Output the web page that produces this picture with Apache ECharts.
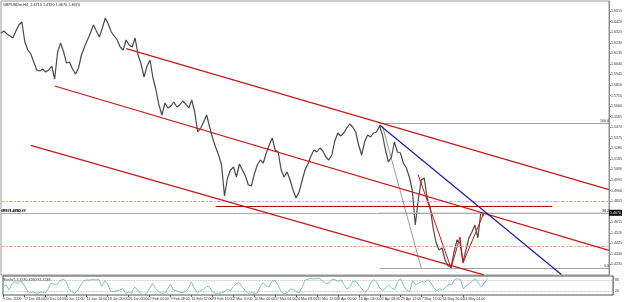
<!DOCTYPE html>
<html>
<head>
<meta charset="utf-8">
<script src="https://cdn.jsdelivr.net/npm/echarts@6.0.0/dist/echarts.min.js"></script>
<style>
html, body { margin: 0; padding: 0; background: #fff; }
#chart { width: 625px; height: 302px; }
</style>
</head>
<body>
<div id="chart"></div>
<script>
// GBPUSD H4 with channels, pivots and stochastic sub-window
var timeLabels = ['9 Dec 2009', '17 Dec 08:00', '24 Dec 04:00', '4 Jan 12:00', '11 Jan 16:00', '18 Jan 20:00',
  '26 Jan 00:00', '2 Feb 04:00', '9 Feb 08:00', '16 Feb 12:00', '23 Feb 16:00', '2 Mar 20:00', '10 Mar 00:00',
  '17 Mar 04:00', '24 Mar 08:00', '31 Mar 12:00', '8 Apr 00:00', '15 Apr 04:00', '22 Apr 08:00', '29 Apr 12:00',
  '7 May 12:00', '14 May 20:00', '24 May 04:00', '31 May 12:00'];
var labelEvery = 7;
var slotCount = 205;

var priceClose = [
  1.6318, 1.6336, 1.6309, 1.6291, 1.6273, 1.6336, 1.6390, 1.6417, 1.6237, 1.6165,
  1.6129, 1.6057, 1.5985, 1.5976, 1.5994, 1.5967, 1.5985, 1.6021, 1.5904, 1.6147,
  1.6228, 1.6147, 1.6048, 1.6057, 1.5994, 1.5949, 1.6003, 1.6120, 1.6192, 1.6255,
  1.6318, 1.6390, 1.6336, 1.6282, 1.6363, 1.6453, 1.6399, 1.6327, 1.6291, 1.6255,
  1.6192, 1.6165, 1.6255, 1.6210, 1.6192, 1.6273, 1.6120, 1.6039, 1.5922, 1.6021,
  1.6075, 1.5913, 1.5805, 1.5670, 1.5580, 1.5688, 1.5643, 1.5661, 1.5697, 1.5652,
  1.5670, 1.5706, 1.5679, 1.5643, 1.5715, 1.5607, 1.5427, 1.5463, 1.5517, 1.5580,
  1.5472, 1.5373, 1.5292, 1.5220, 1.5130, 1.4851, 1.5013, 1.5085, 1.5112, 1.5022,
  1.5139, 1.5085, 1.5031, 1.4950, 1.4941, 1.5049, 1.5130, 1.5175, 1.5148, 1.5238,
  1.5310, 1.5373, 1.5265, 1.5247, 1.5085, 1.5022, 1.5067, 1.4995, 1.4905, 1.4833,
  1.4887, 1.4986, 1.5085, 1.5139, 1.5211, 1.5265, 1.5247, 1.5283, 1.5256, 1.5202,
  1.5175, 1.5220, 1.5346, 1.5418, 1.5391, 1.5418, 1.5463, 1.5499, 1.5472, 1.5427,
  1.5310, 1.5220, 1.5337, 1.5400, 1.5382, 1.5418, 1.5427, 1.5481, 1.5400, 1.5265,
  1.5157, 1.5202, 1.5337, 1.5247, 1.5238, 1.5148, 1.5103, 1.5022, 1.4905, 1.4590,
  1.4815, 1.4995, 1.5013, 1.4833, 1.4743, 1.4563, 1.4428, 1.4365, 1.4383, 1.4275,
  1.4221, 1.4212, 1.4347, 1.4455, 1.4428, 1.4257, 1.4365, 1.4473, 1.4527, 1.4590,
  1.4473, 1.4707, 1.4670
];

var stochMain = [
  44, 53, 26, 58, 70, 61, 75, 53, 26, 9,
  18, 9, 12, 18, 9, 30, 61, 58, 53, 75,
  83, 75, 35, 18, 9, 26, 53, 75, 79, 79,
  83, 79, 83, 44, 75, 58, 18, 18, 23, 26,
  35, 9, 16, 9, 44, 26, 9, 0, 9, 35,
  61, 35, 18, 9, 9, 30, 58, 26, 23, 16,
  12, 18, 35, 70, 35, 12, 23, 30, 44, 44,
  18, 9, 5, 12, 16, 30, 23, 44, 61, 65,
  44, 23, 9, 12, 9, 9, 44, 65, 47, 44,
  75, 75, 53, 18, 5, 12, 30, 30, 18, 12,
  40, 79, 83, 88, 84, 88, 86,
  72, 60, 63, 81, 81, 72, 81, 54, 32, 42,
  72, 72, 52, 32, 14, 28, 63, 81, 67, 37,
  23, 37, 52, 37, 28, 72, 86, 49, 25, 19,
  75, 54, 63, 70, 67, 79, 67, 40, 23, 32,
  25, 42, 54, 54, 81, 86, 81, 32, 49, 60,
  74, 86, 63, 42, 63, 86
];

// trend lines: [slot, price] start and end
var channelUpper = [[42, 1.6177], [204, 1.4909]];
var channelMid = [[18, 1.5841], [204, 1.4362]];
var channelLow = [[10, 1.5307], [162, 1.4141]];
var blueLine = [[127, 1.5490], [188, 1.4145]];
var fiboDiag = [[128, 1.5481], [141, 1.4203]];
var redLevel = [[72, 1.4761], [185, 1.4761]];

var zigzagSlots = [140, 151, 154, 155, 162];
var zigzagPrices = [1.5040, 1.4203, 1.4482, 1.4248, 1.4698];

var fiboStart = 127;
var fiboPrices = [1.5508, 1.4702, 1.4203];
var fiboNames = ['100.0', '38.2', '0.0'];

var tanLevels = [1.4829, 1.4804, 1.4781];
var greenLevels = [1.4730, 1.4703, 1.4680];
var greenTags = ['#R1#1.4730 ##', '#PP#1.4703 ##', '#S1#1.4680 ##'];
var lowLevels = [1.4428, 1.4404, 1.4374];
var bidPrice = 1.4670;
var stochLevels = [80, 20];

(function () {
  var font = 'Liberation Sans';
  var ink = '#333';
  var frame = '#9a9a9a';
  var dashDot = [4, 1.5, 1, 1.5];

  var slots = [];
  for (var i = 0; i < slotCount; i++) slots.push(i);

  var zigzag = slots.map(function () { return null; });
  zigzagSlots.forEach(function (s, k) { zigzag[s] = zigzagPrices[k]; });

  function seg(pts, color, width, type) {
    return [
      { coord: pts[0], lineStyle: { color: color, width: width, type: type || 'solid' } },
      { coord: pts[1] }
    ];
  }
  function level(v, color, tag) {
    var it = { yAxis: v, lineStyle: { color: color, width: 0.8, type: dashDot } };
    if (tag) {
      it.label = { show: true, position: 'insideStartTop', distance: 0, formatter: tag,
        fontSize: 3.6, color: '#222', fontFamily: font };
    }
    return it;
  }

  var lines = [];
  tanLevels.forEach(function (v) { lines.push(level(v, '#e2a988')); });
  greenLevels.forEach(function (v, k) { lines.push(level(v, '#8fb88f', greenTags[k])); });
  lowLevels.forEach(function (v) { lines.push(level(v, '#e2a988')); });
  lines.push({
    yAxis: bidPrice,
    lineStyle: { color: '#a8a8a8', width: 0.8, type: 'solid' },
    label: { show: true, position: 'end', distance: 0, formatter: bidPrice.toFixed(4),
      backgroundColor: '#000', color: '#fff', fontSize: 3.6, padding: [1, 1], fontFamily: font }
  });
  fiboPrices.forEach(function (p, k) {
    var s = seg([[fiboStart, p], [slotCount - 1, p]], k === 1 ? '#b0b0b0' : '#8a8a8a', 0.8, k === 1 ? 'dotted' : 'solid');
    s[0].label = { show: true, position: 'insideEndTop', distance: 0, formatter: fiboNames[k],
      fontSize: 3.6, color: '#222', fontFamily: font };
    lines.push(s);
  });
  lines.push(seg(fiboDiag, '#555', 0.6));
  lines.push(seg(redLevel, '#a01010', 1));
  lines.push(seg(channelUpper, '#c81818', 1.2));
  lines.push(seg(channelMid, '#c81818', 1.2));
  lines.push(seg(channelLow, '#c81818', 1.2));
  lines.push(seg(blueLine, '#1c1c96', 1.2));

  var chart = echarts.init(document.getElementById('chart'), null, { renderer: 'canvas' });
  chart.setOption({
    animation: false,
    backgroundColor: '#fff',
    textStyle: { fontFamily: font },
    graphic: [
      { type: 'text', left: 3, top: 3, style: { text: 'GBPUSDm,H4  1.4710 1.4720 1.4670 1.4670',
        fontSize: 3.8, fill: '#222', fontFamily: font } },
      { type: 'text', left: 3, top: 278, style: { text: 'Stoch(5,3,3) 80.4260 81.4248',
        fontSize: 3.6, fill: '#222', fontFamily: font } }
    ],
    grid: [
      { left: 1, right: 12, top: 1, bottom: 27, show: true, borderColor: frame, borderWidth: 1, backgroundColor: '#fff' },
      { left: 1, right: 12, top: 276, bottom: 7, show: true, borderColor: '#555', borderWidth: 1, backgroundColor: '#fff' }
    ],
    xAxis: [
      { type: 'category', gridIndex: 0, data: slots, boundaryGap: false,
        axisLine: { show: false }, axisTick: { show: false }, axisLabel: { show: false } },
      { type: 'category', gridIndex: 1, data: slots, boundaryGap: false,
        axisLine: { show: false },
        axisTick: { show: true, length: 2, lineStyle: { color: '#555' },
          interval: function (idx) { return idx % labelEvery === 0 && idx / labelEvery < timeLabels.length; } },
        axisLabel: { show: true, fontSize: 3.6, color: ink, align: 'left', margin: 2,
          interval: function (idx) { return idx % labelEvery === 0 && idx / labelEvery < timeLabels.length; },
          formatter: function (v, idx) { return timeLabels[idx / labelEvery] || ''; } } }
    ],
    yAxis: [
      { type: 'value', gridIndex: 0, position: 'right', min: 1.4140, max: 1.6606, interval: 0.0095,
        axisLine: { show: true, lineStyle: { color: '#888' } },
        axisTick: { show: true, length: 2, lineStyle: { color: '#888' } },
        splitLine: { show: false },
        axisLabel: { fontSize: 3.6, color: ink, margin: 2, showMinLabel: false, showMaxLabel: false,
          formatter: function (v) { return v.toFixed(4); } } },
      { type: 'value', gridIndex: 1, position: 'right', min: 0, max: 100, interval: 20,
        axisLine: { show: true, lineStyle: { color: '#888' } },
        axisTick: { show: false }, splitLine: { show: false },
        axisLabel: { fontSize: 3.6, color: ink, margin: 2,
          formatter: function (v) { return stochLevels.indexOf(v) >= 0 ? String(v) : ''; } } }
    ],
    series: [
      {
        name: 'GBPUSD', type: 'line', xAxisIndex: 0, yAxisIndex: 0, data: priceClose,
        showSymbol: false, silent: true, z: 3,
        lineStyle: { color: '#4a4a4a', width: 1.2 },
        markLine: { symbol: ['none', 'none'], silent: true, animation: false,
          label: { show: false }, data: lines }
      },
      {
        name: 'ZigZag', type: 'line', xAxisIndex: 0, yAxisIndex: 0, data: zigzag, connectNulls: true,
        showSymbol: false, silent: true, z: 4,
        lineStyle: { color: '#d01010', width: 1 }
      },
      {
        name: 'Stoch', type: 'line', xAxisIndex: 1, yAxisIndex: 1, data: stochMain,
        showSymbol: false, silent: true,
        lineStyle: { color: '#7cc4c4', width: 1 },
        markLine: { symbol: ['none', 'none'], silent: true, animation: false, label: { show: false },
          lineStyle: { color: '#aaa', width: 0.8, type: 'dotted' },
          data: stochLevels.map(function (v) { return { yAxis: v }; }) }
      }
    ]
  });
})();
</script>
</body>
</html>
